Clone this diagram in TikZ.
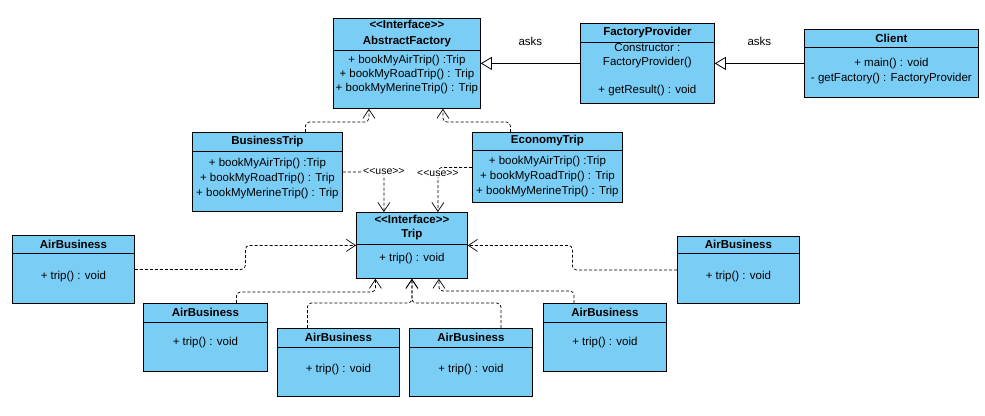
\documentclass[tikz,border=0pt]{standalone}
\usepackage{fontspec}
\setmainfont{Liberation Sans}
\usepackage{tikz}
\usetikzlibrary{calc,arrows.meta}
\definecolor{classblue}{RGB}{122,206,245}
\newcommand{\stereo}[1]{<{}<#1>{}>}
% name, left, top, width, height, header height, title, body offset, body
\newcommand{\umlclass}[9]{%
  \node[classbox, minimum width=#4, minimum height=#5, anchor=north west] (#1) at (#2,#3) {};
  \draw[line width=0.8pt] ($(#1.north west)+(0,#6)$) -- ($(#1.north east)+(0,#6)$);
  \node[classtitle] (#1-title) at ($(#1.north)+(0,#6/2)$) {#7};
  \node[classtext] (#1-body) at ($(#1.north)+(0,#8)$) {#9};
}

\begin{document}
\begin{tikzpicture}[x=1pt, y=-1pt,
    classbox/.style={draw, line width=0.8pt, fill=classblue, inner sep=0pt},
    classtext/.style={font=\fontsize{11.5}{15}\selectfont, inner sep=0pt, align=center},
    classtitle/.style={classtext, font=\fontsize{11.5}{15}\selectfont\bfseries},
    classsmall/.style={font=\fontsize{10.5}{12}\selectfont, inner sep=0.5pt},
    realize/.style={line width=0.8pt, -{Triangle[open, length=11pt, width=13pt, fill=white]}},
    dep/.style={line width=0.7pt, dash pattern=on 3pt off 2pt, rounded corners=4pt, -{Straight Barb[length=9pt, width=12pt]}}]
    \useasboundingbox[fill=white] (0,0) rectangle (985,415);
    % factories
    \umlclass{AF}{333}{18}{147}{90}{32}{\stereo{Interface}\\[1pt]AbstractFactory}{57}{+ bookMyAirTrip() :Trip\\[-1pt]+ bookMyRoadTrip() : Trip\\[-1pt]+ bookMyMerineTrip() : Trip}
    \umlclass{FP}{580}{23}{134}{80}{19}{FactoryProvider}{47}{Constructor :\\[-1pt]FactoryProvider()\\[13pt]+ getResult() : void}
    \umlclass{CL}{804}{29}{174}{68}{18}{Client}{42}{+ main() : void\\- getFactory() : FactoryProvider}
    \umlclass{BT}{192}{132}{150}{79}{19}{BusinessTrip}{47}{+ bookMyAirTrip() :Trip\\+ bookMyRoadTrip() : Trip\\+ bookMyMerineTrip() : Trip}
    \umlclass{ET}{472}{132}{150}{70}{18}{EconomyTrip}{45}{+ bookMyAirTrip() :Trip\\+ bookMyRoadTrip() : Trip\\+ bookMyMerineTrip() : Trip}
    % trips
    \umlclass{Trip}{356}{212}{111}{66}{32}{\stereo{Interface}\\[-1pt]Trip}{47}{+ trip() : void}
    \umlclass{AB1}{12}{235}{122}{68}{18}{AirBusiness}{42}{+ trip() : void}
    \umlclass{AB2}{143}{303}{124}{68}{19}{AirBusiness}{40}{+ trip() : void}
    \umlclass{AB3}{277}{328}{122}{68}{19}{AirBusiness}{42}{+ trip() : void}
    \umlclass{AB4}{409}{328}{123}{68}{19}{AirBusiness}{42}{+ trip() : void}
    \umlclass{AB5}{543}{303}{123}{68}{19}{AirBusiness}{40}{+ trip() : void}
    \umlclass{AB6}{677}{236}{122}{67}{17}{AirBusiness}{41}{+ trip() : void}
    % asks
    \draw[realize] (FP.west) -- (AF.east) node[classtext, midway, yshift=22pt] (asks1) {asks};
    \draw[realize] (CL.west) -- (FP.east) node[classtext, midway, yshift=22pt] (asks2) {asks};
    \draw[dep] ([xshift=38pt]BT.north) -- ++(0,-10) -| ([xshift=-38pt]AF.south);
    \draw[dep] ([xshift=-37pt]ET.north) -- ++(0,-10) -| ([xshift=36pt]AF.south);
    % use
    \draw[dep] (BT.east) -| ([xshift=-28pt]Trip.north) node[pos=0.5, classsmall, fill=white] (use1) {\stereo{use}};
    \draw[dep] (ET.west) -| ([xshift=26pt]Trip.north) node[pos=0.57, classsmall, fill=white] (use2) {\stereo{use}};
    % implementations of Trip
    \draw[dep] (AB1.east) -| ($(AB1.east)!0.5!(Trip.west)$) |- (Trip.west);
    \draw[dep] (AB6.west) -| ($(AB6.west)!0.5!(Trip.east)$) |- (Trip.east);
    \draw[dep] ([xshift=31pt]AB2.north) -- ++(0,-11) -| ([xshift=-36.5pt]Trip.south);
    \draw[dep] ([xshift=-31pt]AB3.north) -- ++(0,-25) -| (Trip.south);
    \draw[dep] ([xshift=30pt]AB4.north) -- ++(0,-25) -| (Trip.south);
    \draw[dep] ([xshift=-31pt]AB5.north) -- ++(0,-12) -| ([xshift=27pt]Trip.south);
\end{tikzpicture}
\end{document}
